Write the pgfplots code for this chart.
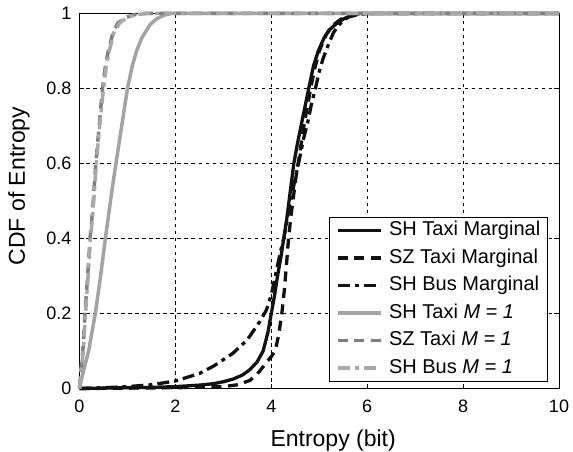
\documentclass[border=0pt]{standalone}
\usepackage{fontspec}
\setmainfont{Liberation Sans}
\usepackage{pgfplots}
\pgfplotsset{compat=1.18}
\definecolor{blk}{gray}{0.07}
\definecolor{gA}{gray}{0.64}
\definecolor{gB}{gray}{0.50}
\definecolor{gC}{gray}{0.66}
\begin{document}
\begin{tikzpicture}
\path[use as bounding box] (-79.5bp,-63.5bp) rectangle (493.5bp,388.5bp);
\begin{axis}[at={(0,0)}, anchor=south west, scale only axis,
  width=479.5bp, height=375bp,
  xmin=0, xmax=10, ymin=0, ymax=1, clip=false,
  xtick={0,2,4,6,8,10}, ytick={0,0.2,0.4,0.6,0.8,1},
  xticklabels={0,2,4,6,8,10}, yticklabels={0,0.2,0.4,0.6,0.8,1},
  tick align=inside, major tick length=5bp,
  tick style={black, line width=0.6bp},
  grid=major, grid style={black, line width=0.6bp, dash pattern=on 3.5bp off 3.5bp},
  axis line style={black, line width=1bp},
  tick label style={font=\fontsize{18bp}{20bp}\selectfont},
  yticklabel style={inner sep=0pt, xshift=-8bp},
  xticklabel style={inner sep=0pt, yshift=-11bp},
  label style={font=\fontsize{23bp}{27bp}\selectfont, inner sep=0pt},
  xlabel={Entropy (bit)}, ylabel={CDF of Entropy},
  xlabel style={at={(axis description cs:0.529,-0.1552)}, anchor=base},
  ylabel style={at={(axis description cs:-0.1137,0.54)}, anchor=base},
  legend cell align=left,
  legend image code/.code={\draw[#1] plot coordinates {(0bp,0bp) (21.5bp,0bp) (43bp,0bp)};},
  legend style={at={(0.9765,0.018)}, anchor=south east, draw=black, line width=1bp,
    fill=white, font=\fontsize{20bp}{24bp}\selectfont,
    inner xsep=7bp, inner ysep=4bp, row sep=9bp, column sep=6.5bp,
    nodes={inner sep=0pt, text height=14.5bp, text depth=4bp}},
]
\addplot[blk, line width=3.3bp, line join=round] coordinates {
(0,0) (0.5,0.001) (1,0.002) (1.5,0.003) (2,0.005) (2.5,0.009) (2.8,0.013) (3.0,0.018)
(3.2,0.025) (3.4,0.036) (3.55,0.05) (3.7,0.07) (3.83,0.10) (3.93,0.15) (4.0,0.20)
(4.07,0.25) (4.13,0.30) (4.2,0.35) (4.26,0.40) (4.32,0.45) (4.37,0.50) (4.42,0.55)
(4.47,0.60) (4.54,0.65) (4.62,0.70) (4.70,0.75) (4.78,0.80) (4.88,0.86) (4.98,0.90)
(5.1,0.935) (5.2,0.955) (5.33,0.97) (5.5,0.985) (5.65,0.994) (5.85,1.0) (10,1.0)};
\addlegendentry{SH Taxi Marginal}
\addplot[blk, line width=3.3bp, dash pattern=on 10bp off 6.5bp] coordinates {
(0,0) (1,0.001) (2,0.002) (3,0.005) (3.3,0.01) (3.56,0.022) (3.75,0.045) (3.9,0.07)
(4.0,0.085) (4.08,0.10) (4.15,0.14) (4.22,0.20) (4.27,0.26) (4.31,0.32) (4.36,0.40)
(4.41,0.46) (4.45,0.50) (4.51,0.56) (4.56,0.60) (4.62,0.65) (4.68,0.70) (4.75,0.75)
(4.82,0.80) (4.9,0.85) (5.0,0.90) (5.15,0.945) (5.3,0.97) (5.45,0.985) (5.6,0.995)
(5.9,1.0) (10,1.0)};
\addlegendentry{SZ Taxi Marginal}
\addplot[blk, line width=3.3bp, dash pattern=on 12bp off 5bp on 4bp off 5bp] coordinates {
(0,0) (0.5,0.002) (1,0.005) (1.5,0.01) (2,0.02) (2.5,0.04) (2.8,0.06) (3.0,0.077)
(3.2,0.094) (3.5,0.13) (3.77,0.18) (3.9,0.21) (4.0,0.25) (4.1,0.31) (4.2,0.37)
(4.26,0.40) (4.33,0.45) (4.4,0.50) (4.5,0.56) (4.6,0.62) (4.68,0.67) (4.76,0.71)
(4.84,0.76) (4.92,0.80) (5.0,0.845) (5.08,0.88) (5.2,0.92) (5.3,0.95) (5.45,0.975)
(5.6,0.99) (5.8,0.997) (6.0,1.0) (10,1.0)};
\addlegendentry{SH Bus Marginal}
\addplot[gA, line width=3.5bp, line join=round] coordinates {
(0,0) (0.05,0.03) (0.1,0.055) (0.19,0.10) (0.26,0.15) (0.33,0.20) (0.44,0.30)
(0.54,0.40) (0.62,0.475) (0.69,0.54) (0.76,0.60) (0.88,0.70) (1.0,0.80) (1.1,0.86)
(1.19,0.90) (1.3,0.935) (1.47,0.97) (1.6,0.985) (1.75,0.995) (1.9,1.0) (10,1.0)};
\addlegendentry{SH Taxi \textit{M = 1}}
\addplot[gB, line width=3.5bp, dash pattern=on 10bp off 6.5bp] coordinates {
(0,0) (0.03,0.05) (0.07,0.10) (0.115,0.20) (0.17,0.30) (0.22,0.40) (0.27,0.47)
(0.34,0.60) (0.41,0.70) (0.48,0.80) (0.54,0.86) (0.6,0.90) (0.7,0.95) (0.8,0.975)
(0.98,0.99) (1.15,0.997) (1.33,1.0) (10,1.0)};
\addlegendentry{SZ Taxi \textit{M = 1}}
\addplot[gC, line width=3.5bp, dash pattern=on 12bp off 5bp on 4bp off 5bp] coordinates {
(0,0) (0.03,0.045) (0.08,0.10) (0.125,0.20) (0.18,0.30) (0.23,0.40) (0.28,0.47)
(0.35,0.60) (0.42,0.70) (0.5,0.80) (0.56,0.86) (0.62,0.90) (0.72,0.95) (0.84,0.975)
(1.0,0.99) (1.2,0.997) (1.4,1.0) (10,1.0)};
\addlegendentry{SH Bus \textit{M = 1}}
\end{axis}
\end{tikzpicture}
\end{document}
